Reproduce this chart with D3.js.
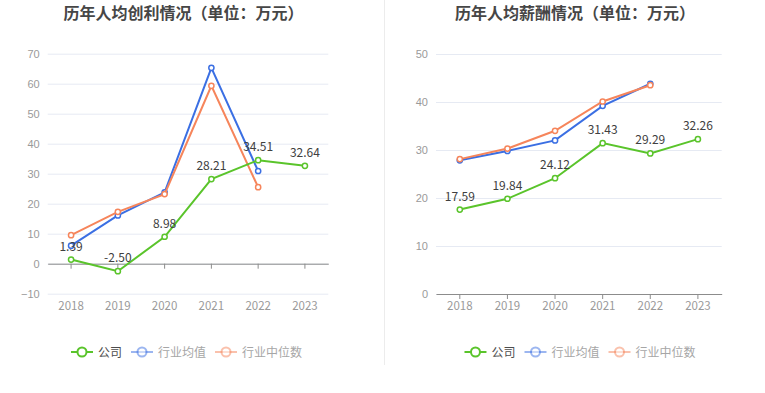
<!DOCTYPE html>
<html>
<head>
<meta charset="utf-8">
<script src="https://cdn.jsdelivr.net/npm/d3@7"></script>
<style>
  body { margin: 0; background: #fff; }
  svg { display: block; font-family: "Noto Sans CJK SC", "Noto Sans", sans-serif; }
</style>
</head>
<body>
<svg id="chart" width="765" height="393"></svg>
<script>
const years = ['2018', '2019', '2020', '2021', '2022', '2023'];
const seriesNames = ['公司', '行业均值', '行业中位数'];

// 历年人均创利
const profitCompany = [1.39, -2.50, 8.98, 28.21, 34.51, 32.64];
const profitMean = [6.0, 16.1, 23.8, 65.3, 30.9, null];
const profitMedian = [9.5, 17.3, 23.2, 59.3, 25.5, null];
const profitTicks = [-10, 0, 10, 20, 30, 40, 50, 60, 70];

// 历年人均薪酬
const salaryCompany = [17.59, 19.84, 24.12, 31.43, 29.29, 32.26];
const salaryMean = [27.85, 29.8, 32.0, 39.2, 43.8, null];
const salaryMedian = [28.1, 30.3, 34.0, 40.1, 43.5, null];
const salaryTicks = [0, 10, 20, 30, 40, 50];

const colors = ['#5ac42b', '#3b6fe3', '#f6855b'];

const svg = d3.select('#chart');

// divider between the two charts
svg.append('line')
  .attr('x1', 384.5).attr('x2', 384.5)
  .attr('y1', 0).attr('y2', 365)
  .attr('stroke', '#ececec');

function drawPanel(opts) {
  const g = svg.append('g');

  const x = d3.scaleBand().domain(years).range([opts.left, opts.right]);
  const y = d3.scaleLinear()
    .domain(d3.extent(opts.ticks))
    .range([opts.bottom, opts.top]);

  g.append('text')
    .attr('x', opts.titleX).attr('y', 19)
    .attr('text-anchor', 'middle')
    .attr('font-size', 16).attr('font-weight', 'bold')
    .attr('fill', '#464646')
    .text(opts.title);

  // y axis with grid lines
  const yAxis = g.append('g')
    .attr('transform', `translate(${opts.left},0)`)
    .call(d3.axisLeft(y).tickValues(opts.ticks)
      .tickSize(-(opts.right - opts.left)).tickPadding(8));
  yAxis.select('.domain').remove();
  yAxis.selectAll('line').attr('stroke', '#e6eaf3');
  yAxis.selectAll('text').attr('fill', '#9a9a9a').attr('font-size', 11)
    .attr('font-family', null);

  // x axis line at zero with ticks
  const zeroY = y(0);
  const xAxis = g.append('g')
    .attr('transform', `translate(0,${zeroY})`)
    .call(d3.axisBottom(x).tickSize(5).tickSizeOuter(0));
  xAxis.select('.domain').attr('stroke', '#8c8c8c');
  xAxis.selectAll('line').attr('stroke', '#8c8c8c');
  xAxis.selectAll('text').remove();

  g.append('g').selectAll('text')
    .data(years)
    .enter()
    .append('text')
    .attr('x', d => x(d) + x.bandwidth() / 2)
    .attr('y', 310)
    .attr('text-anchor', 'middle')
    .attr('font-size', 11.5)
    .attr('fill', '#9a9a9a')
    .text(d => d);

  const line = d3.line()
    .defined(d => d != null)
    .x((d, i) => x(years[i]) + x.bandwidth() / 2)
    .y(d => y(d));

  const order = [1, 2, 0];
  order.forEach(k => {
    const vals = opts.series[k];
    g.append('path')
      .datum(vals)
      .attr('d', line)
      .attr('fill', 'none')
      .attr('stroke', colors[k])
      .attr('stroke-width', 2);
    g.append('g').selectAll('circle')
      .data(vals.map((v, i) => ({ v, i })).filter(d => d.v != null))
      .enter()
      .append('circle')
      .attr('cx', d => x(years[d.i]) + x.bandwidth() / 2)
      .attr('cy', d => y(d.v))
      .attr('r', 2.6)
      .attr('fill', '#fff')
      .attr('stroke', colors[k])
      .attr('stroke-width', 1.5);
  });

  // value labels for the company series
  g.append('g').selectAll('text')
    .data(opts.series[0])
    .enter()
    .append('text')
    .attr('x', (d, i) => x(years[i]) + x.bandwidth() / 2)
    .attr('y', d => y(d) - 9)
    .attr('text-anchor', 'middle')
    .attr('font-size', 12)
    .attr('fill', '#404040')
    .text(d => d.toFixed(2));

  // legend
  const legend = g.append('g');
  let cx = 0;
  seriesNames.forEach((name, k) => {
    const item = legend.append('g').attr('transform', `translate(${cx},0)`);
    const faded = k > 0;
    item.append('line')
      .attr('x1', 0).attr('x2', 22)
      .attr('stroke', colors[k]).attr('stroke-width', 2)
      .attr('opacity', faded ? 0.5 : 1);
    item.append('circle')
      .attr('cx', 11).attr('r', 4.5)
      .attr('fill', '#fff')
      .attr('stroke', colors[k]).attr('stroke-width', 2)
      .attr('opacity', faded ? 0.5 : 1);
    const t = item.append('text')
      .attr('x', 27).attr('y', 4.5)
      .attr('font-size', 12)
      .attr('fill', faded ? '#a6a6a6' : '#4d4d4d')
      .text(name);
    cx += 27 + t.node().getComputedTextLength() + 9;
  });
  const w = cx - 9;
  legend.attr('transform', `translate(${opts.legendX - w / 2},352)`);
}

drawPanel({
  title: '历年人均创利情况（单位：万元）',
  titleX: 183.5,
  legendX: 186.5,
  left: 47.7, right: 328.3, top: 53.7, bottom: 293.7,
  ticks: profitTicks,
  series: [profitCompany, profitMean, profitMedian]
});

drawPanel({
  title: '历年人均薪酬情况（单位：万元）',
  titleX: 575,
  legendX: 580,
  left: 436, right: 721.7, top: 54, bottom: 294,
  ticks: salaryTicks,
  series: [salaryCompany, salaryMean, salaryMedian]
});
</script>
</body>
</html>
